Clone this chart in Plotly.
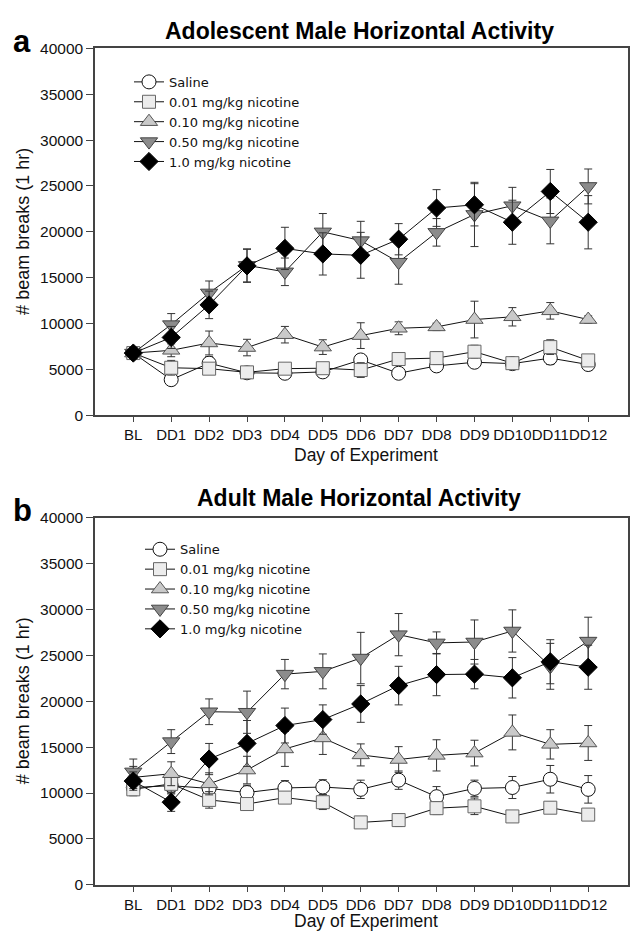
import plotly.graph_objects as go

days = ["BL", "DD1", "DD2", "DD3", "DD4", "DD5", "DD6", "DD7", "DD8", "DD9", "DD10", "DD11", "DD12"]
series_names = ["Saline", "0.01 mg/kg nicotine", "0.10 mg/kg nicotine",
                "0.50 mg/kg nicotine", "1.0 mg/kg nicotine"]

# Panel a: adolescent males
saline_a = [6800, 3900, 5700, 4650, 4600, 4750, 6050, 4600, 5400, 5800, 5650, 6250, 5550]
low_a = [6800, 5200, 5100, 4700, 5100, 5150, 4950, 6150, 6250, 6950, 5700, 7450, 6000]
mid_a = [6800, 7100, 7900, 7400, 8800, 7450, 8700, 9500, 9650, 10450, 10750, 11400, 10450]
high_a = [6800, 9900, 13350, 16350, 15650, 20000, 19050, 16700, 19950, 21900, 22850, 21200, 24950]
top_a = [6800, 8500, 12050, 16300, 18200, 17600, 17450, 19200, 22600, 22950, 21050, 24400, 21050]

saline_a_err = [600, 500, 700, 300, 400, 400, 600, 300, 500, 500, 400, 700, 600]
low_a_err = [600, 800, 500, 300, 500, 400, 800, 700, 700, 700, 400, 800, 600]
mid_a_err = [600, 700, 1300, 900, 900, 800, 1400, 700, 400, 2000, 1000, 900, 400]
high_a_err = [600, 1200, 1300, 1800, 1500, 2000, 2100, 2400, 1500, 3500, 2000, 2500, 1900]
top_a_err = [600, 1200, 1500, 1800, 2300, 2300, 2500, 1700, 2000, 2300, 2400, 2400, 2900]

# Panel b: adult males
saline_b = [10600, 10800, 10500, 10050, 10550, 10650, 10400, 11400, 9600, 10500, 10600, 11500, 10400]
low_b = [10400, 11000, 9250, 8800, 9500, 9000, 6800, 7050, 8350, 8550, 7450, 8400, 7650]
mid_b = [11700, 12100, 11000, 12500, 14800, 16000, 14150, 13650, 14100, 14350, 16600, 15300, 15450]
high_b = [12300, 15600, 18850, 18800, 22950, 23250, 24700, 27250, 26350, 26450, 27650, 23800, 26550]
top_b = [11300, 9000, 13700, 15400, 17350, 18000, 19700, 21700, 22900, 22950, 22550, 24300, 23700]

saline_b_err = [800, 900, 700, 800, 800, 800, 1000, 1000, 1100, 900, 1200, 1500, 1500]
low_b_err = [700, 900, 900, 700, 600, 800, 500, 700, 700, 900, 600, 600, 600]
mid_b_err = [1200, 1300, 1200, 1500, 1900, 1800, 1200, 1400, 1700, 1400, 1900, 1600, 1900]
high_b_err = [1400, 1300, 1400, 2300, 1600, 1900, 2800, 2300, 1200, 2400, 2300, 2500, 2600]
top_b_err = [1000, 1000, 1700, 2500, 1900, 1600, 2000, 2100, 2300, 1600, 2200, 2400, 2400]

panel_a = [saline_a, low_a, mid_a, high_a, top_a]
panel_a_err = [saline_a_err, low_a_err, mid_a_err, high_a_err, top_a_err]
panel_b = [saline_b, low_b, mid_b, high_b, top_b]
panel_b_err = [saline_b_err, low_b_err, mid_b_err, high_b_err, top_b_err]

marker_styles = [
    dict(symbol="circle", size=14, color="#ffffff", line=dict(color="#111111", width=1)),
    dict(symbol="square", size=13, color="#ececec", line=dict(color="#666666", width=1)),
    dict(symbol="triangle-up", size=15, color="#c9c9c9", line=dict(color="#555555", width=1)),
    dict(symbol="triangle-down", size=15, color="#8c8c8c", line=dict(color="#444444", width=1)),
    dict(symbol="diamond", size=14, color="#000000", line=dict(color="#000000", width=1)),
]

W, H = 632, 937
FONT = "Liberation Sans, Arial, Helvetica, sans-serif"

fig = go.Figure()

for panel, errs, xa, ya, leg in [(panel_a, panel_a_err, "x", "y", "legend"),
                                  (panel_b, panel_b_err, "x2", "y2", "legend2")]:
    for name, vals, err, ms in zip(series_names, panel, errs, marker_styles):
        fig.add_trace(go.Scatter(
            x=days, y=vals, name=name, mode="lines+markers",
            line=dict(color="#111111", width=1),
            marker=ms,
            error_y=dict(type="data", array=err, color="#333333", thickness=1, width=4),
            xaxis=xa, yaxis=ya, legend=leg,
        ))

def px_x(p):
    return p / W

def px_y(p):
    return 1 - p / H

xcommon = dict(type="category", range=[-1.01, 13.05], showline=True, mirror=True,
               linecolor="#444444", linewidth=1.5, ticks="outside", ticklen=5,
               tickcolor="#444444", tickangle=0,
               tickfont=dict(size=15, color="#111111", family=FONT),
               showgrid=False, zeroline=False)
ycommon = dict(range=[0, 40000], dtick=5000, tickformat="d", showline=True, mirror=True,
               linecolor="#444444", linewidth=1.5, ticks="outside", ticklen=7,
               tickcolor="#444444", tickfont=dict(size=15.5, color="#111111", family=FONT),
               showgrid=False, zeroline=False)

a_top, a_bot = 40, 414
b_top, b_bot = 518, 892
x_left, x_right = 95, 628

legend_common = dict(font=dict(family="DejaVu Sans, sans-serif", size=13, color="#111111"),
                     bgcolor="rgba(0,0,0,0)", borderwidth=0, xanchor="left", yanchor="top",
                     tracegroupgap=0)

fig.update_layout(
    width=W, height=H,
    margin=dict(l=0, r=0, t=0, b=0),
    paper_bgcolor="white", plot_bgcolor="white",
    font=dict(family=FONT, color="#111111"),
    xaxis=dict(domain=[px_x(x_left), px_x(x_right)], anchor="y", **xcommon),
    yaxis=dict(domain=[px_y(a_bot), px_y(a_top)], anchor="x", **ycommon),
    xaxis2=dict(domain=[px_x(x_left), px_x(x_right)], anchor="y2", **xcommon),
    yaxis2=dict(domain=[px_y(b_bot), px_y(b_top)], anchor="x2", **ycommon),
    legend=dict(x=px_x(129), y=px_y(59), **legend_common),
    legend2=dict(x=px_x(140), y=px_y(535), **legend_common),
    showlegend=True,
)

annotations = [
    dict(text="<b>Adolescent Male Horizontal Activity</b>", x=px_x(359), y=px_y(22),
         font=dict(size=23, family=FONT, color="#000000")),
    dict(text="<b>Adult Male Horizontal Activity</b>", x=px_x(359), y=px_y(498),
         font=dict(size=23, family=FONT, color="#000000")),
    dict(text="<b>a</b>", x=px_x(22), y=px_y(33), font=dict(size=31, family=FONT, color="#000000")),
    dict(text="<b>b</b>", x=px_x(22), y=px_y(511), font=dict(size=31, family=FONT, color="#000000")),
    dict(text="# beam breaks (1 hr)", x=px_x(23), y=px_y((a_top + a_bot) / 2), textangle=-90,
         font=dict(size=18, family=FONT, color="#111111")),
    dict(text="# beam breaks (1 hr)", x=px_x(23), y=px_y((b_top + b_bot) / 2), textangle=-90,
         font=dict(size=18, family=FONT, color="#111111")),
    dict(text="Day of Experiment", x=px_x(366), y=px_y(454),
         font=dict(size=17.5, family=FONT, color="#111111")),
    dict(text="Day of Experiment", x=px_x(366), y=px_y(929),
         font=dict(size=17.5, family=FONT, color="#111111")),
]
for a in annotations:
    a.update(xref="paper", yref="paper", showarrow=False, xanchor="center", yanchor="middle")
fig.update_layout(annotations=annotations)

fig.write_html("out.html")
